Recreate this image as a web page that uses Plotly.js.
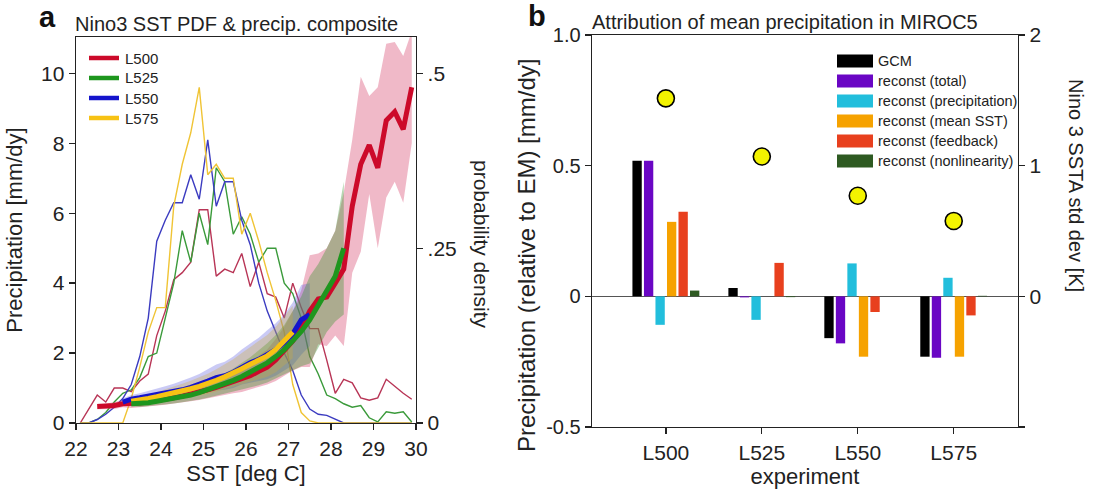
<!DOCTYPE html>
<html>
<head>
<meta charset="utf-8">
<script src="https://cdn.plot.ly/plotly-3.0.1.min.js"></script>
<style>
html,body{margin:0;padding:0;background:#fff;}
#chart{width:1099px;height:502px;}
</style>
</head>
<body>
<div id="chart"></div>
<script>
// ---------- Panel a data ----------
const sst = [22.1,22.3,22.5,22.7,22.9,23.1,23.3,23.5,23.7,23.9,24.1,24.3,24.5,24.7,24.9,25.1,25.3,25.5,25.7,25.9,
             26.1,26.3,26.5,26.7,26.9,27.1,27.3,27.5,27.7,27.9,28.1,28.3,28.5,28.7,28.9,29.1,29.3,29.5,29.7,29.9];
const expNames = ['L500','L525','L550','L575'];

// probability density of Nino3 SST (thin lines, right axis)
const pdfL500 = [0,0.02,0.04,0.03,0.05,0.05,0.045,0.06,0.07,0.125,0.16,0.205,0.215,0.23,0.305,0.305,0.21,0.22,0.215,0.2425,
                 0.195,0.23,0.185,0.18,0.15,0.2,0.165,0.135,0.135,0.09,0.0425,0.0625,0.0575,0.036,0.0325,0.036,0.0625,0.0525,0.0425,0.034];
const pdfL525 = [0,0,0.005,0.015,0.03,0.0425,0.0475,0.065,0.095,0.1,0.15,0.2,0.275,0.23,0.3,0.255,0.365,0.345,0.27,0.295,
                 0.27,0.23,0.25,0.25,0.2,0.185,0.15,0.095,0.07,0.04,0.035,0.0275,0.0225,0.025,0.0075,0.0015,0.016,0.014,0.016,0.0015];
const pdfL550 = [0,0,0.005,0.0125,0.0225,0.035,0.055,0.095,0.15,0.26,0.29,0.315,0.315,0.355,0.32,0.405,0.31,0.345,0.345,0.29,
                 0.255,0.2,0.16,0.13,0.1,0.075,0.04,0.02,0.0125,0.011,0.005,0,0,0,0,0,0,0,0,0];
const pdfL575 = [0,0,0,0,0,0,0.035,0.08,0.13,0.165,0.165,0.31,0.37,0.415,0.48,0.355,0.37,0.35,0.35,0.27,
                 0.3,0.26,0.215,0.175,0.13,0.055,0.015,0.003,0,0,0,0,0,0,0,0,0,0,0,0];

// precipitation composite (thick lines, left axis) and spread (shading)
const prL500 = [null,null,0.47,0.47,0.5,0.55,0.55,0.57,0.6,0.63,0.67,0.72,0.77,0.82,0.88,0.95,1.02,1.1,1.18,1.25,
                1.35,1.48,1.6,1.8,2.05,2.35,2.7,3.2,3.55,3.6,4.0,4.4,6.2,7.4,7.95,7.3,8.65,8.9,8.4,9.6];
const sdL500 = [null,null,0.08,0.08,0.1,0.1,0.12,0.12,0.13,0.14,0.15,0.16,0.17,0.2,0.22,0.25,0.28,0.3,0.33,0.36,
                0.4,0.45,0.5,0.6,0.7,0.85,1.1,1.6,1.3,1.4,1.5,2.2,1.9,2.5,1.4,2.3,2.2,2.0,2.1,1.6];
const prL525 = [null,null,null,null,null,null,0.55,0.55,0.58,0.62,0.66,0.7,0.75,0.8,0.87,0.95,1.03,1.12,1.22,1.33,
                1.45,1.58,1.72,1.9,2.1,2.35,2.62,2.95,3.35,3.8,4.2,5.0,null,null,null,null,null,null,null,null];
const sdL525 = [null,null,null,null,null,null,0.08,0.09,0.1,0.11,0.12,0.14,0.16,0.18,0.2,0.23,0.26,0.3,0.34,0.38,
                0.43,0.5,0.56,0.62,0.7,0.85,1.0,1.25,1.2,1.2,1.3,1.9,null,null,null,null,null,null,null,null];
const prL550 = [null,null,null,null,null,0.6,0.68,0.72,0.76,0.8,0.85,0.9,0.95,1.02,1.1,1.2,1.3,1.35,1.45,1.6,
                1.72,1.82,1.95,2.1,2.3,2.55,2.95,3.1,null,null,null,null,null,null,null,null,null,null,null,null];
const sdL550 = [null,null,null,null,null,0.1,0.12,0.13,0.15,0.17,0.2,0.22,0.25,0.28,0.3,0.33,0.37,0.4,0.45,0.5,
                0.55,0.62,0.7,0.75,0.8,0.9,1.0,0.9,null,null,null,null,null,null,null,null,null,null,null,null];
const prL575 = [null,null,null,null,null,null,0.62,0.65,0.7,0.75,0.8,0.86,0.92,0.98,1.05,1.12,1.22,1.32,1.42,1.55,
                1.68,1.8,1.92,2.1,2.35,2.6,null,null,null,null,null,null,null,null,null,null,null,null,null,null];
const sdL575 = [null,null,null,null,null,null,0.1,0.11,0.12,0.14,0.16,0.18,0.2,0.23,0.26,0.29,0.32,0.35,0.4,0.45,
                0.5,0.55,0.6,0.65,0.7,0.75,null,null,null,null,null,null,null,null,null,null,null,null,null,null];

const sstTicks = [22,23,24,25,26,27,28,29,30];
const precipTicks = [0,2,4,6,8,10];
const densTicks = [0,0.25,0.5];
const densTickText = ['0','.25','.5'];

// ---------- Panel b data ----------
const experiments = ['L500','L525','L550','L575'];
const gcm             = [0.519, 0.032, -0.160, -0.231];
const reconstTotal    = [0.519, -0.004, -0.180, -0.235];
const reconstPrecip   = [-0.109, -0.090, 0.126, 0.071];
const reconstMeanSST  = [0.285, 0.000, -0.231, -0.231];
const reconstFeedback = [0.324, 0.128, -0.060, -0.073];
const reconstNonlin   = [0.022, -0.003, 0.000, 0.002];
const nino3StdDev     = [1.515, 1.07, 0.77, 0.577];
const barNames = ['GCM','reconst (total)','reconst (precipitation)','reconst (mean SST)','reconst (feedback)','reconst (nonlinearity)'];
const barSeries = [gcm, reconstTotal, reconstPrecip, reconstMeanSST, reconstFeedback, reconstNonlin];
const barColors = ['#000000','#6a06c4','#22bedc','#f6a200','#e8401e','#2e5a22'];
const precipBTicks = [-0.5,0,0.5,1.0];
const precipBTickText = ['-0.5','0','0.5','1.0'];
const stdTicks = [-1,0,1,2];
const stdTickText = ['','0','1','2'];

// ---------- styles ----------
const lineCol  = {L500:'#cc0a2a', L525:'#1e961e', L550:'#1414cc', L575:'#f7c214'};
const thinCol  = {L500:'#b83556', L525:'#3a9a3a', L550:'#3b3bc0', L575:'#f0c435'};
const bandCol  = {L500:'rgba(215,70,110,0.38)', L525:'rgba(60,150,50,0.38)', L550:'rgba(90,90,225,0.32)', L575:'rgba(205,170,60,0.32)'};
const pdfs = {L500:pdfL500, L525:pdfL525, L550:pdfL550, L575:pdfL575};
const prs  = {L500:prL500, L525:prL525, L550:prL550, L575:prL575};
const sds  = {L500:sdL500, L525:sdL525, L550:sdL550, L575:sdL575};

const traces = [];
// thin PDF lines (base axes)
expNames.forEach(n => {
  traces.push({x: sst, y: pdfs[n], xaxis:'x', yaxis:'y', mode:'lines', type:'scatter',
    line:{color: thinCol[n], width:1.4}, showlegend:false, hoverinfo:'skip'});
});
// shaded spreads (overlay axes)
['L500','L550','L525','L575'].forEach(n => {
  const xs=[], up=[], lo=[];
  prs[n].forEach((v,i) => { if (v !== null) { xs.push(sst[i]); up.push(v + sds[n][i]); lo.push(v - sds[n][i]); } });
  traces.push({x: xs.concat(xs.slice().reverse()), y: up.concat(lo.slice().reverse()),
    xaxis:'x', yaxis:'y2', type:'scatter', mode:'lines', fill:'toself', fillcolor: bandCol[n],
    line:{width:0, color:'rgba(0,0,0,0)'}, showlegend:false, hoverinfo:'skip'});
});
// thick composite lines
['L500','L550','L575','L525'].forEach(n => {
  traces.push({x: sst, y: prs[n], xaxis:'x', yaxis:'y2', type:'scatter', mode:'lines', name:n,
    line:{color: lineCol[n], width:5}, connectgaps:false, showlegend:false});
});
// bars
barSeries.forEach((s,i) => {
  traces.push({x: experiments, y: s, type:'bar', name: barNames[i], xaxis:'x2', yaxis:'y3',
    marker:{color: barColors[i], line:{width:0}}, showlegend:false});
});
// Nino3 std dev dots
traces.push({x: experiments, y: nino3StdDev, xaxis:'x2', yaxis:'y4', type:'scatter', mode:'markers',
  marker:{size:17, color:'#f3f300', line:{color:'#000', width:1.6}}, showlegend:false, cliponaxis:false});

const W = 1099, H = 502;
const px = v => v / W, py = v => (H - v) / H;
const axisCommon = {showline:true, linecolor:'#222', linewidth:1.4, ticks:'outside', ticklen:6, tickwidth:1.3,
  tickcolor:'#222', showgrid:false, zeroline:false, tickfont:{size:21, color:'#222'}};

const shapes = [], annotations = [];
// legend of panel a (line samples)
expNames.forEach((n,i) => {
  const yc = 58 + 20*i;
  shapes.push({type:'line', xref:'paper', yref:'paper', x0:px(89), x1:px(119), y0:py(yc), y1:py(yc),
    line:{color: lineCol[n], width:4.5}});
  annotations.push({xref:'paper', yref:'paper', x:px(123), y:py(yc), xanchor:'left', yanchor:'middle',
    text:n, showarrow:false, font:{size:15, color:'#222'}});
});
// legend of panel b (colour boxes)
barNames.forEach((n,i) => {
  const yc = 61 + 20*i;
  shapes.push({type:'rect', xref:'paper', yref:'paper', x0:px(837), x1:px(873), y0:py(yc+6.5), y1:py(yc-6.5),
    fillcolor: barColors[i], line:{width:0}});
  annotations.push({xref:'paper', yref:'paper', x:px(876), y:py(yc), xanchor:'left', yanchor:'middle',
    text:n, showarrow:false, font:{size:14.5, color:'#222'}});
});
annotations.push(
  {xref:'paper', yref:'paper', x:px(47), y:py(17), text:'<b>a</b>', showarrow:false, font:{size:29, color:'#111'}, xanchor:'center', yanchor:'middle'},
  {xref:'paper', yref:'paper', x:px(537), y:py(16), text:'<b>b</b>', showarrow:false, font:{size:29, color:'#111'}, xanchor:'center', yanchor:'middle'},
  {xref:'paper', yref:'paper', x:px(73), y:py(24), text:'Nino3 SST PDF &amp; precip. composite', showarrow:false, font:{size:20, color:'#222'}, xanchor:'left', yanchor:'middle'},
  {xref:'paper', yref:'paper', x:px(590), y:py(22), text:'Attribution of mean precipitation in MIROC5', showarrow:false, font:{size:20, color:'#222'}, xanchor:'left', yanchor:'middle'},
  {xref:'paper', yref:'paper', x:px(482), y:py(244), text:'probability density', textangle:90, showarrow:false, font:{size:21, color:'#222'}, xanchor:'center', yanchor:'middle'},
  {xref:'paper', yref:'paper', x:px(1076), y:py(185), text:'Nino 3 SSTA std dev [K]', textangle:90, showarrow:false, font:{size:20, color:'#222'}, xanchor:'center', yanchor:'middle'},
  {xref:'paper', yref:'paper', x:px(526), y:py(256), text:'Precipitation (relative to EM) [mm/dy]', textangle:-90, showarrow:false, font:{size:24, color:'#222'}, xanchor:'center', yanchor:'middle'}
);

const layout = {
  width: W, height: H, margin:{l:0, r:0, t:0, b:0},
  paper_bgcolor:'#fff', plot_bgcolor:'#fff',
  font:{family:'Liberation Sans, Arial, sans-serif', color:'#222'},
  barmode:'group', bargap:0.28, bargroupgap:0.19,
  showlegend:false,
  xaxis: Object.assign({}, axisCommon, {domain:[px(76), px(416)], range:[22,30], tickvals:sstTicks, anchor:'y', mirror:true,
    title:{text:'SST [deg C]', font:{size:22}, standoff:7}}),
  yaxis: Object.assign({}, axisCommon, {domain:[py(423), py(37)], range:[0,0.552], side:'right', anchor:'x',
    tickvals:densTicks, ticktext:densTickText}),
  yaxis2: Object.assign({}, axisCommon, {overlaying:'y', side:'left', anchor:'x', range:[0,11.04], tickvals:precipTicks,
    title:{text:'Precipitation [mm/dy]', font:{size:22}, standoff:12}}),
  xaxis2: Object.assign({}, axisCommon, {domain:[px(592), px(1018)], anchor:'y3', type:'category', range:[-0.77,3.67],
    mirror:true, tickfont:{size:21, color:'#222'}, title:{text:'experiment', font:{size:22}, standoff:5}}),
  yaxis3: Object.assign({}, axisCommon, {domain:[py(427), py(35)], anchor:'x2', range:[-0.5,1.0], tickvals:precipBTicks,
    ticktext:precipBTickText, zeroline:true, zerolinecolor:'#555', zerolinewidth:1, tickfont:{size:20, color:'#222'}}),
  yaxis4: Object.assign({}, axisCommon, {overlaying:'y3', side:'right', anchor:'x2', range:[-1,2], tickvals:stdTicks,
    ticktext:stdTickText, tickfont:{size:21, color:'#222'}}),
  shapes: shapes, annotations: annotations
};

Plotly.newPlot('chart', traces, layout, {displayModeBar:false, staticPlot:true});
</script>
</body>
</html>
